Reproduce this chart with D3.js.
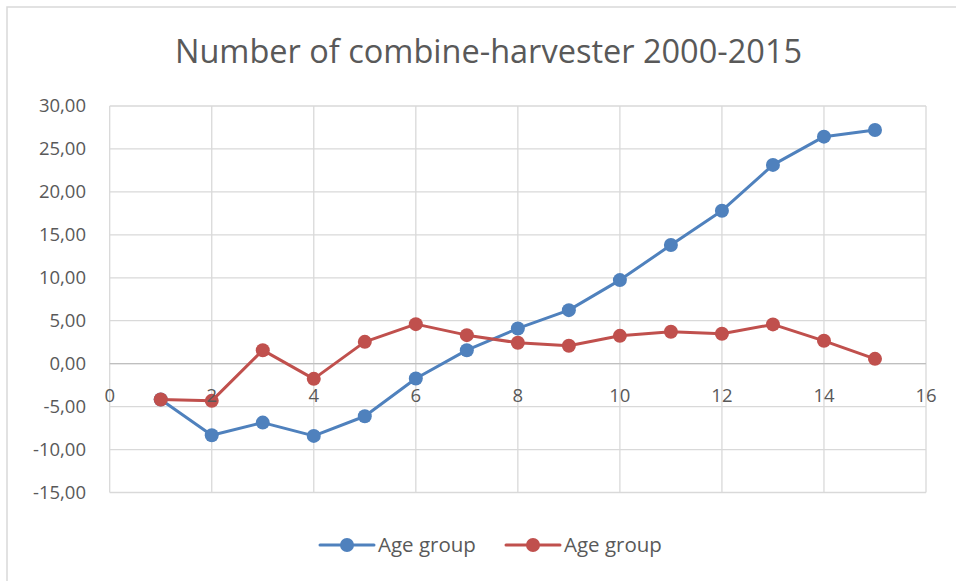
<!DOCTYPE html>
<html>
<head>
<meta charset="utf-8">
<script src="https://cdn.jsdelivr.net/npm/d3@7"></script>
<style>
  html, body { margin: 0; padding: 0; background: #fff; }
  svg { display: block; }
  text { font-family: "Open Sans", "Liberation Sans", sans-serif; fill: #595959; }
</style>
</head>
<body>
<svg id="chart" width="956" height="581"></svg>
<script>
// ---- data ----
const chartTitle = "Number of combine-harvester 2000-2015";
const seriesNames = ["Age group", "Age group"];
const xValues = [1, 2, 3, 4, 5, 6, 7, 8, 9, 10, 11, 12, 13, 14, 15];
const blueValues = [-4.17, -8.33, -6.86, -8.41, -6.12, -1.73, 1.57, 4.10, 6.23, 9.73, 13.81, 17.81, 23.14, 26.43, 27.21];
const redValues = [-4.17, -4.33, 1.57, -1.77, 2.54, 4.60, 3.32, 2.43, 2.08, 3.24, 3.71, 3.48, 4.57, 2.66, 0.56];
const xTicks = [0, 2, 4, 6, 8, 10, 12, 14, 16];
const yTicks = [-15, -10, -5, 0, 5, 10, 15, 20, 25, 30];
const colors = ["#4f81bd", "#c0504d"];

// ---- layout ----
const svg = d3.select("#chart");
const plot = { left: 109.7, right: 926, top: 106, bottom: 492.5 };
const x = d3.scaleLinear().domain([0, 16]).range([plot.left, plot.right]);
const y = d3.scaleLinear().domain([-15, 30]).range([plot.bottom, plot.top]);
const fmt = v => d3.format(".2f")(v).replace(".", ",").replace("\u2212", "-");

// chart border
svg.append("rect")
  .attr("x", 7).attr("y", 7).attr("width", 980).attr("height", 600)
  .attr("fill", "none").attr("stroke", "#d9d9d9").attr("stroke-width", 1.5);

// title
svg.append("text")
  .attr("x", 488.5).attr("y", 63)
  .attr("text-anchor", "middle")
  .style("font-size", "32.5px")
  .text(chartTitle);

// gridlines
const grid = svg.append("g");
grid.selectAll("line.h").data(yTicks).join("line")
  .attr("x1", plot.left).attr("x2", plot.right)
  .attr("y1", d => y(d)).attr("y2", d => y(d))
  .attr("stroke", "#d9d9d9").attr("stroke-width", 1.3);
grid.selectAll("line.v").data(xTicks).join("line")
  .attr("y1", plot.top).attr("y2", plot.bottom)
  .attr("x1", d => x(d)).attr("x2", d => x(d))
  .attr("stroke", "#d9d9d9").attr("stroke-width", 1.3);
// zero axis on top of verticals
svg.append("line")
  .attr("x1", plot.left).attr("x2", plot.right)
  .attr("y1", y(0)).attr("y2", y(0))
  .attr("stroke", "#bfbfbf").attr("stroke-width", 1.3);

// y tick labels
svg.append("g").selectAll("text").data(yTicks).join("text")
  .attr("x", 86).attr("y", d => y(d))
  .attr("text-anchor", "end").attr("dy", "0.35em")
  .style("font-size", "18.5px")
  .text(d => fmt(d));

// series
const series = [blueValues, redValues];
const line = d3.line().x((d, i) => x(xValues[i])).y(d => y(d));
series.forEach((vals, s) => {
  const g = svg.append("g");
  g.append("path").datum(vals)
    .attr("d", line)
    .attr("fill", "none").attr("stroke", colors[s])
    .attr("stroke-width", 3).attr("stroke-linejoin", "round").attr("stroke-linecap", "round");
  g.selectAll("circle").data(vals).join("circle")
    .attr("cx", (d, i) => x(xValues[i])).attr("cy", d => y(d))
    .attr("r", 7).attr("fill", colors[s]);
});

// x tick labels (next to the zero axis)
svg.append("g").selectAll("text").data(xTicks).join("text")
  .attr("x", d => x(d)).attr("y", y(0) + 38.5)
  .attr("text-anchor", "middle")
  .style("font-size", "18.5px")
  .text(d => d);

// legend
const legendItems = [{ x: 320, name: seriesNames[0], c: colors[0] }, { x: 506, name: seriesNames[1], c: colors[1] }];
const lg = svg.append("g");
legendItems.forEach(it => {
  lg.append("line").attr("x1", it.x).attr("x2", it.x + 54)
    .attr("y1", 545).attr("y2", 545)
    .attr("stroke", it.c).attr("stroke-width", 3).attr("stroke-linecap", "round");
  lg.append("circle").attr("cx", it.x + 27).attr("cy", 545).attr("r", 7).attr("fill", it.c);
  lg.append("text").attr("x", it.x + 58).attr("y", 552)
    .style("font-size", "20.5px").text(it.name);
});
</script>
</body>
</html>
